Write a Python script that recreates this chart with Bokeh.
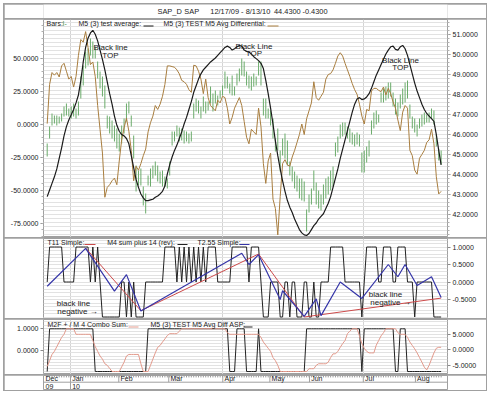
from bokeh.plotting import figure
from bokeh.models import Range1d, LinearAxis, FixedTicker, PrintfTickFormatter, Label
from bokeh.layouts import column
from bokeh.embed import file_html
from bokeh.resources import INLINE
from bokeh.core.properties import value

FONT = "Liberation Sans"
TXT = "#222222"
FRAME = "#a0a0a0"
GRID = "#e2e2e2"

# ---------------- data (trading-day index 0..164, 12/17/09 - 8/13/10) ----------------
days = list(range(165))

bar_high = [45.55, 46.40, 47.05, 46.95, 46.95, 46.90, 47.05, 47.40, 47.55, 47.30,
            47.40, 47.55, 47.30, 47.65, 48.90, 49.45, 50.15, 50.30, 50.80, 50.65,
            50.40, 49.65, 49.15, 48.90, 48.45, 46.95, 46.90, 46.70, 46.45, 46.30,
            46.05, 46.45, 46.80, 47.55, 47.65, 46.95, 45.95, 44.45, 44.20, 44.30,
            43.40, 43.05, 43.95, 44.30, 44.45, 44.65, 44.45, 44.15, 44.20, 43.90,
            43.80, 44.65, 46.15, 46.15, 46.45, 46.35, 46.30, 46.20, 46.15, 46.05,
            46.15, 47.55, 47.80, 47.70, 47.40, 47.90, 47.65, 47.65, 48.40, 48.05,
            48.20, 47.95, 48.20, 48.45, 49.15, 48.90, 48.55, 48.95, 48.40, 49.05,
            49.30, 49.80, 49.65, 49.15, 48.95, 48.90, 49.05, 48.90, 49.65, 49.65,
            47.80, 47.80, 47.30, 47.20, 46.80, 45.80, 46.30, 45.20, 45.80, 46.05,
            45.70, 44.65, 44.40, 44.15, 43.95, 43.80, 43.80, 43.65, 42.25, 43.00,
            43.30, 44.20, 43.60, 43.20, 43.00, 43.50, 43.80, 43.90, 44.20, 44.40,
            45.60, 45.90, 46.50, 46.60, 46.60, 46.40, 46.30, 46.10, 46.00, 46.10,
            46.00, 45.10, 45.20, 45.40, 45.70, 46.70, 47.10, 47.20, 47.00, 48.10,
            48.30, 48.40, 48.60, 48.60, 48.10, 47.80, 47.60, 48.00, 48.30, 48.60,
            48.70, 47.50, 46.90, 46.80, 46.50, 46.80, 47.00, 47.10, 47.00, 47.10,
            47.30, 47.20, 46.00, 45.30, 45.20]

bar_low = [44.90, 45.80, 46.45, 46.55, 46.45, 46.55, 46.65, 46.90, 46.95, 46.90,
           46.80, 46.90, 46.80, 46.95, 47.80, 48.45, 49.30, 49.45, 49.95, 49.80,
           49.80, 48.80, 48.30, 47.90, 47.30, 46.30, 46.05, 45.80, 45.65, 45.30,
           45.15, 45.55, 46.05, 46.65, 47.05, 46.40, 44.80, 43.15, 43.45, 43.45,
           42.45, 42.05, 43.45, 43.40, 43.80, 43.95, 43.65, 43.55, 43.40, 43.40,
           43.30, 43.95, 45.45, 45.65, 45.90, 45.65, 45.70, 45.55, 45.65, 45.55,
           45.65, 46.80, 47.15, 47.05, 46.80, 47.15, 47.05, 47.20, 47.55, 47.15,
           47.55, 47.45, 47.80, 47.95, 48.30, 48.30, 48.05, 47.95, 47.95, 48.45,
           48.65, 48.95, 48.90, 48.45, 48.30, 48.20, 48.40, 48.45, 48.95, 48.45,
           46.95, 46.80, 46.80, 46.45, 45.80, 45.15, 45.20, 44.15, 44.95, 44.80,
           44.45, 43.95, 43.65, 43.30, 43.15, 42.80, 42.70, 42.65, 41.15, 42.10,
           42.50, 43.20, 42.50, 42.30, 42.20, 42.50, 42.80, 43.00, 43.20, 43.40,
           44.90, 45.10, 45.80, 45.90, 46.00, 45.80, 45.60, 45.50, 45.40, 45.50,
           45.40, 44.10, 44.10, 44.60, 44.90, 46.00, 46.30, 46.50, 46.60, 47.60,
           47.60, 47.70, 47.80, 47.90, 47.40, 47.00, 46.90, 47.30, 47.50, 47.60,
           47.80, 46.80, 46.30, 46.10, 45.90, 46.30, 46.40, 46.50, 46.60, 46.60,
           46.80, 46.50, 45.40, 44.70, 44.50]

# M5 (3) test average (black, left scale)
avg_line = [-55, -50, -45, -40, -34, -26, -18, -9, -2, 3,
            7, 11, 16, 22, 33, 47, 58, 65, 69, 71,
            68, 63, 56, 49, 41, 32, 23, 15, 6, -1,
            -5.5, -8, -9, -11, -15, -24, -33, -42, -48, -53,
            -56, -58, -58, -57.5, -57, -55.5, -54.5, -53, -51, -47,
            -38, -31, -25, -20, -16, -11, -6, 0, 5, 11,
            17, 24, 29, 34, 38, 41, 43, 45, 47, 48.5,
            50, 52, 54, 56, 58, 59, 58, 56, 57, 58.5,
            59.5, 59, 56, 55, 54.5, 53, 51, 49.5, 48, 46,
            42, 33, 23, 12, 0, -13, -24, -34, -43, -51,
            -58, -63, -67, -72, -76, -80, -82.5, -84, -84.5, -83,
            -80, -77, -75, -72, -70, -68, -64, -60, -55, -48,
            -41, -34, -26, -19, -12, -5, 2, 9, 15, 19,
            20, 18.5, 19, 20.5, 23, 27, 32, 37, 41, 45,
            49, 53, 56, 58.5, 59, 56.5, 56, 58.5, 59.5, 57,
            52, 45, 38, 31, 25, 20, 15, 11, 8, 6,
            4, 2, -8, -20, -31]

# M5 (3) TEST M5 Avg Differential (brown, left scale)
diff_line = [0.3, 30, 39, 37, 39, 35.6, 44, 46, 40, 34,
             36, 28, 36, 52, 64, 62, 70, 58, 45, 47,
             36, 14, -4, -22, -55.5, -48, -46, -43, -41, -46,
             -28, -12, -3, 4.5, -5.5, -20, -43, -32, -35, -30,
             -24, -19, -6, 1, 6, 14, 11, 15, 21, 30,
             44, 44, 43.5, 43, 41, 38, 33, 32, 30, 26,
             24, 44.5, 44, 40, 34, 23, 34, 20, 14, 12,
             10, 18, 16, 21, 20, 12, 0, 5, 12, 16,
             20, 14, 2, -10, -15, -4, -6, -8, 12, -2,
             -30, -45, -28, -22, -57, -64, -84, -55, -30, -27,
             -31, -32, -25, -20, -14, -8, 0, -8, 4, 10,
             16, 32, 20, 18, 21, 24, 34, 37.5, 38.2, 41,
             46, 51.5, 54, 51.5, 46, 41, 36, 30.6, 26, 22.5,
             15, 6, 0, 11, 10, 25, 27, 27, 25.5, 24.5,
             28, 22, 27, 23, 16.7, 12, 3, -5, 9, 14,
             12, -20, -24, -35, -38, -26, -23, -20, -14, -12,
             -4, -15, -40, -53, -51]

# M4 sum plus 14 (rev) (black, middle panel)
m4_sum = [0, 1, 1, 1, 1, 1, 1, 0, 0, 0,
          0, 0, 1, 1, 1, 1, 1, 1, 0, 1,
          0, 1, 0, -1, -1, -1, -1, -1, -1, -1,
          -1, 0, 0, -1, 0, -1, 0, -1, -1, -1,
          -1, 0, 0, 0, 0, 0, 0, 0, 0, 1,
          1, 1, 1, 1, 0, 1, 0, 1, 0, 1,
          0, 1, 0, 1, 0, 1, 0, 1, 1, 1,
          1, 0, 0, 0, 0, 0, 0, 1, 1, 1,
          1, 1, 1, 1, 0, 1, 1, 1, 1, 0,
          -1, -1, -1, 0, 0, 0, 0, -1, -1, 0,
          0, -1, 0, 0, -1, -1, -1, 0, 0, -1,
          -1, 0, -1, -1, 0, 0, 0, 0, 1, 1,
          1, 1, 1, 1, 0, 0, 0, 0, 0, 0,
          0, -1, 0, 1, 1, 1, 1, 1, 0, 0,
          1, 1, 1, 1, 0, 0, 1, 1, 1, 1,
          0, 0, 0, -1, 0, 0, 0, 0, 0, 0,
          0, -1, -1, -1, -1]

# T11 Simple (red) and T2.55 Simple (blue) pivot points
t11_idx = [16, 39, 88, 107, 164]
t11_val = [0.97, -0.82, 0.80, -1.00, -0.46]
t255_idx = [0, 16, 28, 33, 39, 81, 84, 88, 97, 98, 107, 112, 114, 122, 131, 142, 146, 149, 154, 160, 164]
t255_val = [-0.12, 0.96, -0.26, 0.21, -0.83, 0.82, 0.50, 0.78, -0.50, -0.25, -0.98, -0.48, -0.96, 0.00,
            -0.47, 0.50, 0.15, 0.50, -0.10, 0.15, -0.44]

# M2F + / M 4 Combo Sum (pink, right scale)
combo_sum = [-5.4, -3.5, -1.5, -0.5, 1.0, 2.5, 4.0, 5.0, 6.8, 6.8,
             6.8, 6.8, 5.0, 5.0, 5.0, 5.0, 5.0, 5.0, 5.0, 3.0,
             1.0, -0.5, -2.0, -3.0, -4.5, -5.0, -6.0, -7.0, -7.0, -7.0,
             -7.0, -5.5, -4.0, -2.0, -1.5, -1.5, -1.5, -1.5, -1.5, -4.5,
             -7.0, -7.0, -7.0, -5.0, -3.0, -1.0, 0.8, 1.4, 2.5, 3.5,
             4.6, 5.2, 5.2, 5.2, 5.2, 6.0, 6.8, 6.8, 6.8, 6.8,
             6.8, 6.8, 6.8, 6.8, 6.8, 6.8, 6.8, 6.8, 6.8, 6.8,
             6.8, 6.8, 6.8, 6.8, 6.8, 5.5, 5.0, 5.0, 5.0, 5.0,
             5.0, 5.0, 5.0, 5.0, 5.0, 5.0, 5.0, 5.0, 5.0, 4.0,
             2.5, 1.5, 0.5, -0.5, -2.5, -3.5, -5.0, -7.0, -7.0, -7.0,
             -7.0, -7.0, -7.0, -7.0, -7.0, -7.0, -7.0, -7.0, -7.0, -6.1,
             -6.1, -6.1, -5.0, -4.5, -4.5, -4.5, -4.5, -4.0, -2.5, -1.3,
             -1.3, -0.5, 0.8, 2.0, 3.0, 5.2, 6.0, 6.8, 6.8, 6.8,
             4.5, 2.0, 0.5, -0.5, -1.0, -1.0, -1.0, 1.5, 3.0, 4.5,
             5.5, 6.8, 6.8, 6.8, 6.8, 6.8, 5.5, 5.0, 5.0, 5.0,
             4.0, 2.5, 1.4, 0.3, -1.0, -2.5, -4.0, -5.6, -6.5, -5.0,
             -3.0, -1.0, 0.5, 0.8, 0.8]

# M5 (3) TEST M5 Avg Diff ASP (black, left scale)
asp_line = [-1, 1, 1, 1, 1, 1, 1, 1, 1, 1,
            1, 1, 1, 1, 1, 1, 1, 1, 1, 1,
            -1, -1, -1, -1, -1, -1, -1, -1, -1, -1,
            -1, -1, -1, -1, -1, -1, -1, -1, -1, -1,
            -1, -1, 1, 1, 1, 1, 1, 1, 1, 1,
            1, 1, 1, 1, 1, 1, 1, 1, 1, 1,
            1, 1, 1, 1, 1, 1, 1, 1, 1, 1,
            1, 1, 1, 1, 1, 1, -1, -1, -1, 1,
            1, 1, 1, -1, -1, -1, -1, -1, 1, -1,
            -1, -1, -1, -1, -1, -1, -1, -1, -1, -1,
            -1, -1, -1, -1, -1, -1, -1, -1, 1, 1,
            1, 1, 1, 1, 1, 1, 1, 1, 1, 1,
            1, 1, 1, 1, 1, 1, 1, 1, 1, 1,
            1, -1, 1, 1, 1, 1, 1, 1, 1, 1,
            1, 1, 1, 1, 1, -1, -1, 1, 1, 1,
            -1, -1, -1, -1, -1, -1, -1, -1, -1, -1,
            -1, -1, -1, -1, -1]

month_names = ["Jan", "Feb", "Mar", "Apr", "May", "Jun", "Jul", "Aug"]
month_at = [9.7, 29.8, 50.6, 73.1, 92.7, 109.2, 131.6, 153.3]
first_month = "Dec"
year_names = ["09", "10"]

price_ticks = [42, 43, 44, 45, 46, 47, 48, 49, 50, 51]
osc_ticks = [-75, -50, -25, 0, 25, 50]
mid_ticks = [-0.5, 0.0, 0.5, 1.0]
sig_ticks = [0, 1]
pink_ticks = [-5, 0, 5]

# ---------------- geometry helpers (page pixels -> data) ----------------
X0, DX = 46.7, 2.402
def xi(px):
    return (px - X0) / DX
XMIN, XMAX = xi(43), xi(447)

def yprice(py): return 50 - (py - 54) / 20.0
def yosc(py): return 50 - (py - 57.5) * 25 / 33.0
def ymid(py): return (281.5 - py) / 35.0
def ysig(py): return (349.65 - py) / 21.35
def ypink(py): return (349.3 - py) / 3.1
def ydate(py): return (390 - py) / 15.0


def txt(p, x, y, s, size="7px", align="left", color=TXT, **kw):
    p.text(x=[x], y=[y], text=[s], text_font=value(FONT), text_font_size=size,
           text_align=align, text_baseline="middle", text_color=color, **kw)


def uline(p, xa, xb, y, color, **kw):
    p.segment(x0=[xa], y0=[y], x1=[xb], y1=[y], line_color=color, line_width=1, **kw)


def style_axis(ax, ticks, minor):
    ax.ticker = FixedTicker(ticks=ticks, minor_ticks=minor)
    ax.formatter = PrintfTickFormatter(format="%.4f")
    ax.major_label_text_font = FONT
    ax.major_label_text_font_size = "7px"
    ax.major_label_text_color = TXT
    ax.axis_line_color = None
    ax.major_tick_line_color = "#8a8a8a"
    ax.major_tick_in = 0
    ax.major_tick_out = 3
    ax.minor_tick_line_color = "#b0b0b0"
    ax.minor_tick_in = 0
    ax.minor_tick_out = 2
    ax.major_label_standoff = 2


def make_panel(height, yr):
    p = figure(width=482, height=height, x_range=Range1d(XMIN, XMAX), y_range=yr,
               x_axis_location=None, y_axis_location="right", toolbar_location=None,
               output_backend="svg", min_border_left=39, min_border_right=39,
               min_border_top=0, min_border_bottom=0)
    p.outline_line_color = FRAME
    p.background_fill_color = "white"
    p.border_fill_color = "white"
    p.xgrid.ticker = FixedTicker(ticks=[month_at[0], month_at[3], month_at[6]])
    p.xgrid.grid_line_color = "#d4d4d4"
    p.ygrid.grid_line_color = GRID
    return p

# ---------------- title row ----------------
tfig = figure(width=482, height=14, x_range=Range1d(4, 486), y_range=Range1d(18, 4),
              x_axis_location=None, y_axis_location=None, toolbar_location=None,
              output_backend="svg", min_border=0)
tfig.outline_line_color = None
tfig.xgrid.visible = False
tfig.ygrid.visible = False
for xx, s in [(140, "SAP_D"), (172, "SAP"), (203, "12/17/09 - 8/13/10"), (279, "44.4300"), (313, "-0.4300")]:
    txt(tfig, xx, 11, s, size="7.4px")

# ---------------- top panel ----------------
top = make_panel(218, Range1d(yprice(237), yprice(19)))
top.extra_y_ranges = {"osc": Range1d(yosc(237), yosc(19))}
style_axis(top.yaxis[0], price_ticks, [round(41 + 0.2 * k, 1) for k in range(55)])
osc_axis = LinearAxis(y_range_name="osc")
style_axis(osc_axis, osc_ticks, list(range(-85, 80, 5)))
top.add_layout(osc_axis, "left")
top.ygrid.ticker = FixedTicker(ticks=[round(41 + 0.2 * k, 1) for k in range(55)])

top.segment(x0=days, y0=bar_low, x1=days, y1=bar_high, line_color="#6aab6a", line_width=1)
top.line(days, diff_line, y_range_name="osc", line_color="#a97e3f", line_width=1)
top.line(days, avg_line, y_range_name="osc", line_color="#1a1a1a", line_width=1.2)

ly = yprice(23)
txt(top, xi(46), ly, "Bars:")
txt(top, xi(62), ly, "I-", color="#3f8f3f")
txt(top, xi(78), ly, "M5 (3) test average:")
uline(top, xi(143), xi(153), yprice(25.5), "#1a1a1a")
txt(top, xi(163), ly, "M5 (3) TEST M5 Avg Differential:")
uline(top, xi(267), xi(278), yprice(25.5), "#a97e3f")
for cx, y1, y2, s in [(110, 47.3, 54.5, "Black line"), (253.5, 46.3, 53.3, "Black Line"),
                      (400, 59.7, 67.0, "Black Line")]:
    txt(top, xi(cx), yprice(y1), s, size="8px", align="center")
    txt(top, xi(cx), yprice(y2), "TOP", size="8px", align="center")

# ---------------- middle panel ----------------
mid = make_panel(80, Range1d(ymid(318), ymid(238)))
style_axis(mid.yaxis[0], mid_ticks, [])
mid.ygrid.ticker = FixedTicker(ticks=[round(-1.0 + 0.1 * k, 1) for k in range(23)])
mid.line(days, m4_sum, line_color="#222222", line_width=1)
mid.line(t11_idx, t11_val, line_color="#cc4a4a", line_width=1)
mid.line(t255_idx, t255_val, line_color="#3535a8", line_width=1.2)

my = ymid(241.7)
txt(mid, xi(47), my, "T11 Simple:")
uline(mid, xi(84), xi(95), ymid(244), "#cc4a4a")
txt(mid, xi(106.7), my, "M4 sum plus 14 (rev):")
uline(mid, xi(177), xi(187), ymid(244), "#222222")
txt(mid, xi(197), my, "T2.55 Simple:")
uline(mid, xi(239), xi(249), ymid(244), "#3535a8")
txt(mid, xi(73), ymid(303.3), "black line", size="8px", align="center")
txt(mid, xi(77), ymid(311), "negative \u2192", size="8px", align="center")
txt(mid, xi(385), ymid(294.3), "black line", size="8px", align="center")
txt(mid, xi(390), ymid(302), "negative \u2192", size="8px", align="center")

# ---------------- bottom panel ----------------
bot = make_panel(55, Range1d(ypink(374), ypink(319)))
bot.extra_y_ranges = {"sig": Range1d(ysig(374), ysig(319))}
style_axis(bot.yaxis[0], pink_ticks, [])
sig_axis = LinearAxis(y_range_name="sig")
style_axis(sig_axis, sig_ticks, [])
bot.add_layout(sig_axis, "left")
bot.ygrid.ticker = FixedTicker(ticks=list(range(-7, 10)))
bot.line(days, asp_line, y_range_name="sig", line_color="#222222", line_width=1)
bot.line(days, combo_sum, line_color="#e39a8c", line_width=1)

by = ypink(324.3)
txt(bot, xi(47), by, "M2F + / M 4 Combo Sum:")
uline(bot, xi(128), xi(138), ypink(326.5), "#e39a8c")
txt(bot, xi(150), by, "M5 (3) TEST M5 Avg Diff ASP:")
uline(bot, xi(243), xi(252), ypink(326.5), "#222222")

# ---------------- date row ----------------
dfig = figure(width=482, height=15, x_range=Range1d(XMIN, XMAX), y_range=Range1d(0, 1),
              x_axis_location=None, y_axis_location=None, toolbar_location=None,
              output_backend="svg", min_border_left=39, min_border_right=39,
              min_border_top=0, min_border_bottom=0)
dfig.outline_line_color = FRAME
dfig.xgrid.visible = False
dfig.ygrid.visible = False
ydiv = ydate(381.7)
dfig.segment(x0=[XMIN], y0=[ydiv], x1=[XMAX], y1=[ydiv], line_color=FRAME, line_width=1)
dfig.segment(x0=days, y0=[1.0] * len(days), x1=days, y1=[0.87] * len(days), line_color="#9a9a9a", line_width=1)
dfig.segment(x0=month_at, y0=[ydiv] * len(month_at), x1=month_at, y1=[1.0] * len(month_at),
             line_color=FRAME, line_width=1)
dfig.segment(x0=[month_at[0]], y0=[0], x1=[month_at[0]], y1=[ydiv], line_color=FRAME, line_width=1)
txt(dfig, xi(45), ydate(378.4), first_month)
for m, pos in zip(month_names, month_at):
    txt(dfig, pos + 0.7, ydate(378.4), m)
txt(dfig, xi(45), ydate(386), year_names[0])
txt(dfig, month_at[0] + 0.7, ydate(386), year_names[1])
dfig.add_layout(Label(x=xi(467), y=ydate(383), text="Daily", text_align="center",
                      text_baseline="middle", text_font=FONT, text_font_size="7px",
                      text_color=TXT))

layout = column(tfig, top, mid, bot, dfig, spacing=1,
                styles={"margin-left": "3px", "margin-top": "3px",
                        "background-color": FRAME, "padding": "1px"})

open("out.html", "w").write(file_html(layout, INLINE))
